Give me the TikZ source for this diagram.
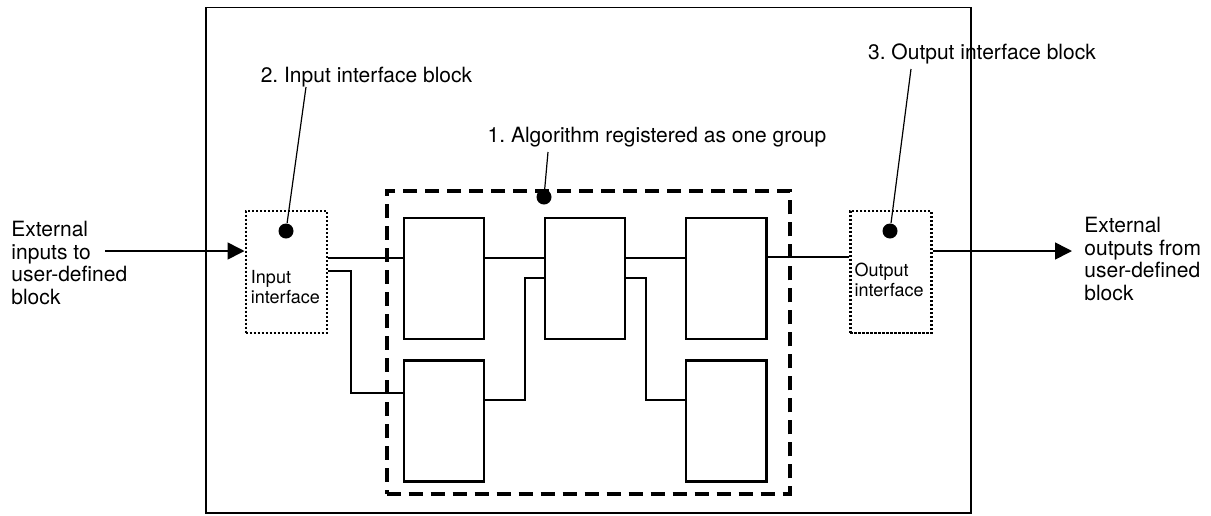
\documentclass[tikz,border=0pt]{standalone}
\usepackage{fontspec}
\setmainfont{TeX Gyre Heros}
\frenchspacing
\usetikzlibrary{arrows.meta}
\begin{document}
\begin{tikzpicture}[
    x=0.5pt, y=-0.5pt,
    % Estilos de las cajas
    framebox/.style={draw=black, line width=0.8pt, minimum width=382.35pt, minimum height=252.75pt, inner sep=0pt},
    groupbox/.style={draw=black, line width=2pt, dash pattern=on 7pt off 4pt, minimum width=201.4pt, minimum height=151.4pt, inner sep=0pt},
    blockbox/.style={draw=black, line width=1.1pt, fill=white, minimum width=40.3pt, minimum height=60.5pt, inner sep=0pt},
    ifacebox/.style={draw=black, line width=1.2pt, dash pattern=on 1.1pt off 0.9pt, minimum width=40.5pt, minimum height=61pt, inner sep=0pt},
    pindot/.style={circle, fill=black, minimum size=7.5pt, inner sep=0pt},
    % Estilos para los textos
    labeltext/.style={font=\fontsize{10.5}{11.4}\selectfont, inner sep=0pt},
    sidetext/.style={font=\fontsize{10.5}{11.4}\selectfont, align=left, anchor=west, inner sep=0pt},
    ifacetext/.style={font=\fontsize{9}{10}\selectfont, align=left, anchor=west, inner sep=0pt},
    % Estilos de las lineas
    conn/.style={line width=0.7pt},
    leader/.style={line width=0.6pt},
    arrowline/.style={line width=0.8pt, -{Triangle[length=8.5pt, width=8.5pt]}}
]
\useasboundingbox (0,0) rectangle (1211,515);

% --- BLOQUE DEFINIDO POR EL USUARIO ---
\node[framebox] (frame) at (588.35, 260.25) {};

% --- GRUPO DEL ALGORITMO ---
\node[groupbox] (grp) at (588.1, 342.1) {};
\node[blockbox] (b1) at (444, 278.8) {};
\node[blockbox] (b2) at (444, 421) {};
\node[blockbox] (b3) at (585, 278.8) {};
\node[blockbox] (b4) at (726.2, 278.8) {};
\node[blockbox] (b5) at (726.2, 421) {};

% --- INTERFACES ---
\node[ifacebox] (inbox) at (286.2, 271.7) {};
\node[ifacetext] (inlbl) at (250.5, 287) {Input\\interface};
\node[ifacebox] (outbox) at (890.8, 271.7) {};
\node[ifacetext] (outlbl) at (854.3, 280) {Output\\interface};

% --- CONEXIONES ---
\draw[conn] (inbox.east |- 0,258) -- (b1.west |- 0,258);
\draw[conn] (inbox.east |- 0,271) -| (351,393) -- (b2.west |- 0,393);
\draw[conn] (b1.east |- 0,258) -- (b3.west |- 0,258);
\draw[conn] (b2.east |- 0,400) -| (525,278) -- (b3.west |- 0,278);
\draw[conn] (b3.east |- 0,258) -- (b4.west |- 0,258);
\draw[conn] (b3.east |- 0,278) -| (646,400) -- (b5.west |- 0,400);
\draw[conn] (b4.east |- 0,257) -- (outbox.west |- 0,257);

% --- ENTRADAS Y SALIDAS EXTERNAS ---
\node[sidetext] (extin) at (11, 263) {External\\inputs to\\user-defined\\block};
\coordinate (inStart) at (105, 251);
\draw[arrowline] (inStart) -- (inbox.west |- inStart);
\node[sidetext] (extout) at (1084, 259) {External\\outputs from\\user-defined\\block};
\coordinate (outEnd) at (1072, 251);
\draw[arrowline] (outbox.east |- outEnd) -- (outEnd);

% --- ETIQUETAS ---
\node[labeltext] (lbl1) at (657, 137) {1. Algorithm registered as one group};
\node[labeltext] (lbl2) at (366.5, 77) {2. Input interface block};
\node[labeltext] (lbl3) at (982, 54) {3. Output interface block};
\node[pindot] (d1) at (544, 197) {};
\node[pindot] (d2) at (286, 231) {};
\node[pindot] (d3) at (890, 231) {};
\coordinate (t1) at (548, 152);
\coordinate (t2) at (306, 87);
\coordinate (t3) at (911, 69);
\draw[leader] (t1) -- (d1);
\draw[leader] (t2) -- (d2);
\draw[leader] (t3) -- (d3);

\end{tikzpicture}
\end{document}
